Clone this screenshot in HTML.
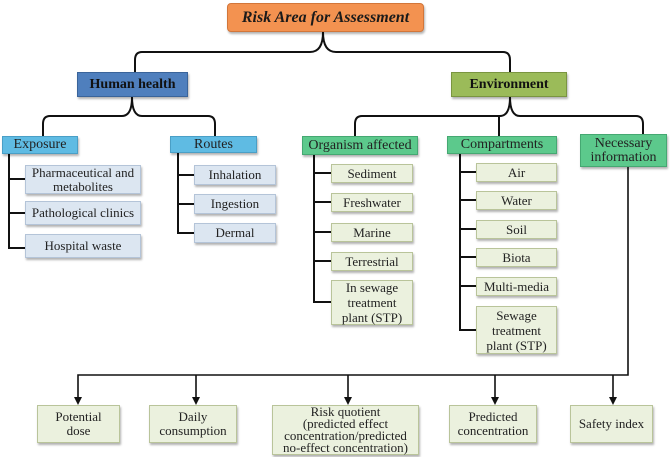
<!DOCTYPE html>
<html><head><meta charset="utf-8"><style>
body{margin:0;width:670px;height:457px;background:#fff;position:relative;overflow:hidden;font-family:"Liberation Serif",serif;color:#222}
.b{position:absolute;display:flex;align-items:center;justify-content:center;text-align:center;font-size:13px;line-height:14px;box-sizing:border-box;box-shadow:1px 2px 2px rgba(0,0,0,.3);padding:0 3px}
.lb{background:#dce6f1;border:1px solid #b4c4d8}
.gb{background:#ebf1de;border:1px solid #b9c49a}
.cy{background:#5fbbe3;border:1px solid #4a9fc6;font-size:14px}
.gr{background:#5cc98c;border:1px solid #45a872;font-size:14px}
svg{position:absolute;left:0;top:0}
</style></head><body>
<svg width="670" height="457" fill="none" stroke="#111" stroke-width="2">
<path d="M323 32 Q323 52 310 52 H142 Q135 52 135 60 V72"/>
<path d="M323 32 Q323 52 336 52 H503 Q510 52 510 60 V72"/>
<path d="M132 97 Q132 116 122 116 H50 Q43 116 43 124 V136"/>
<path d="M132 97 Q132 116 142 116 H208 Q215 116 215 124 V136"/>
<path d="M510 97 Q510 116 500 116 H362 Q355 116 355 124 V136"/>
<path d="M510 97 Q510 116 520 116 H636 Q643 116 643 124 V134"/>
<path d="M499 116 V136"/>
<path d="M9 154 V248 H25 M9 179 H25 M9 213 H25"/>
<path d="M178 153 V233 H194 M178 175 H194 M178 204 H194"/>
<path d="M314 155 V302 H331 M314 173 H331 M314 202 H331 M314 232 H331 M314 261 H331"/>
<path d="M460 154 V330 H476 M460 172 H476 M460 200 H476 M460 229 H476 M460 257 H476 M460 286 H476"/>
<path d="M628 167 V375 H78 V398 M196 375 V398 M348 375 V398 M495 375 V398 M613 375 V398" stroke-width="1.6"/>
<g fill="#111" stroke="none">
<path d="M74 397 L82 397 L78 405Z"/><path d="M192 397 L200 397 L196 405Z"/><path d="M344 397 L352 397 L348 405Z"/><path d="M491 397 L499 397 L495 405Z"/><path d="M609 397 L617 397 L613 405Z"/>
</g>
</svg>
<div class="b" style="left:227px;top:3px;width:197px;height:29px;background:#f39250;border:1px solid #d2763a;border-radius:4px;font-size:16px;font-style:italic;font-weight:bold;color:#1a1a1a">Risk Area for Assessment</div>
<div class="b" style="left:77px;top:72px;width:111px;height:25px;background:#4f7fbd;border:1px solid #3a649a;font-size:14px;font-weight:bold;color:#111">Human health</div>
<div class="b" style="left:451px;top:72px;width:116px;height:25px;background:#9bbb59;border:1px solid #7a9540;font-size:14px;font-weight:bold;color:#111">Environment</div>
<div class="b cy" style="left:2px;top:136px;width:76px;height:18px">Exposure</div>
<div class="b cy" style="left:170px;top:136px;width:87px;height:17px">Routes</div>
<div class="b lb" style="left:25px;top:165px;width:116px;height:29px">Pharmaceutical and metabolites</div>
<div class="b lb" style="left:25px;top:201px;width:116px;height:24px">Pathological clinics</div>
<div class="b lb" style="left:25px;top:234px;width:116px;height:24px">Hospital waste</div>
<div class="b lb" style="left:194px;top:165px;width:82px;height:20px">Inhalation</div>
<div class="b lb" style="left:194px;top:194px;width:82px;height:20px">Ingestion</div>
<div class="b lb" style="left:194px;top:223px;width:82px;height:20px">Dermal</div>
<div class="b gr" style="left:302px;top:136px;width:116px;height:19px">Organism affected</div>
<div class="b gr" style="left:447px;top:136px;width:110px;height:18px">Compartments</div>
<div class="b gr" style="left:580px;top:134px;width:87px;height:33px">Necessary information</div>
<div class="b gb" style="left:331px;top:164px;width:82px;height:19px">Sediment</div>
<div class="b gb" style="left:331px;top:193px;width:82px;height:19px">Freshwater</div>
<div class="b gb" style="left:331px;top:223px;width:82px;height:19px">Marine</div>
<div class="b gb" style="left:331px;top:252px;width:82px;height:19px">Terrestrial</div>
<div class="b gb" style="left:331px;top:280px;width:82px;height:45px;line-height:15px">In sewage treatment plant (STP)</div>
<div class="b gb" style="left:476px;top:163px;width:81px;height:19px">Air</div>
<div class="b gb" style="left:476px;top:191px;width:81px;height:19px">Water</div>
<div class="b gb" style="left:476px;top:220px;width:81px;height:19px">Soil</div>
<div class="b gb" style="left:476px;top:248px;width:81px;height:19px">Biota</div>
<div class="b gb" style="left:476px;top:277px;width:81px;height:19px">Multi-media</div>
<div class="b gb" style="left:476px;top:306px;width:81px;height:48px;line-height:15px">Sewage treatment plant (STP)</div>
<div class="b gb" style="left:37px;top:405px;width:83px;height:38px">Potential<br>dose</div>
<div class="b gb" style="left:149px;top:405px;width:88px;height:38px">Daily<br>consumption</div>
<div class="b gb" style="left:272px;top:405px;width:147px;height:50px;line-height:12px">Risk quotient<br>(predicted effect<br>concentration/predicted<br>no-effect concentration)</div>
<div class="b gb" style="left:449px;top:405px;width:88px;height:38px">Predicted<br>concentration</div>
<div class="b gb" style="left:570px;top:405px;width:83px;height:38px">Safety index</div>
</body></html>
